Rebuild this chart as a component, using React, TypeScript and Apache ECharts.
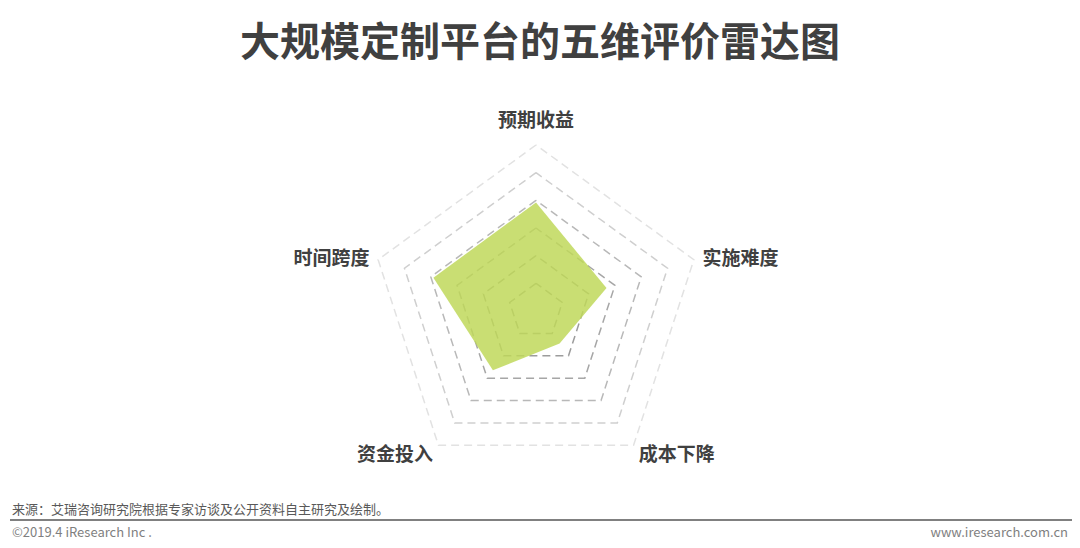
import React, { useEffect, useRef } from "react";
import * as echarts from "echarts";

const TITLE = "大规模定制平台的五维评价雷达图";
const INDICATORS = ["预期收益", "时间跨度", "资金投入", "成本下降", "实施难度"];
const MAX_VALUE = 6;
const SCORES = [3.92, 3.9, 2.65, 1.45, 2.68];
const SOURCE_TEXT = "来源：艾瑞咨询研究院根据专家访谈及公开资料自主研究及绘制。";
const COPYRIGHT = "©2019.4 iResearch Inc .";
const WEBSITE = "www.iresearch.com.cn";

const FONT = "'Noto Sans CJK SC', 'Noto Sans', sans-serif";

export default function App() {
  const ref = useRef<HTMLDivElement>(null);
  useEffect(() => {
    if (!ref.current) return;
    const chart = echarts.init(ref.current, null, { renderer: "svg" });
    const nameStyle = { color: "#404040", fontSize: 19, fontWeight: "bold", fontFamily: FONT };
    chart.setOption({
      animation: false,
      backgroundColor: "#ffffff",
      title: {
        text: TITLE,
        left: "center",
        top: 14,
        textStyle: { fontSize: 40, fontWeight: "bold", color: "#404040", fontFamily: FONT },
      },
      radar: {
        center: [536, 311],
        radius: 166,
        startAngle: 90,
        splitNumber: 6,
        shape: "polygon",
        nameGap: 9,
        indicator: INDICATORS.map((name) => ({ name, min: 0, max: MAX_VALUE })),
        axisName: {
          ...nameStyle,
          formatter: (name: string) =>
            name === INDICATORS[0] ? "{top|" + name + "}" : "{n|" + name + "}",
          rich: {
            top: { ...nameStyle, padding: [0, 0, 8, 0] },
            n: { ...nameStyle },
          },
        },
        axisLine: { show: false },
        axisTick: { show: false },
        axisLabel: { show: false },
        splitArea: { show: false },
        splitLine: {
          lineStyle: {
            color: ["#999999", "#999999", "#9c9c9c", "#a6a6a6", "#b8b8b8", "#cfcfcf", "#e2e2e2"],
            type: [8, 5],
            width: 1.5,
          },
        },
      },
      series: [
        {
          type: "radar",
          symbol: "none",
          lineStyle: { width: 0 },
          areaStyle: { color: "#bfd85a", opacity: 0.85 },
          data: [{ value: SCORES, name: "评分" }],
        },
      ],
      graphic: [
        {
          type: "text",
          left: 12,
          top: 502,
          style: { text: SOURCE_TEXT, fontSize: 13, fill: "#595959", fontFamily: FONT },
        },
        {
          type: "line",
          shape: { x1: 10, y1: 520, x2: 1072, y2: 520 },
          style: { stroke: "#808080", lineWidth: 2 },
        },
        {
          type: "text",
          left: 12,
          top: 525,
          style: { text: COPYRIGHT, fontSize: 13, fill: "#7f7f7f", fontFamily: FONT },
        },
        {
          type: "text",
          right: 12,
          top: 525,
          style: { text: WEBSITE, fontSize: 13, fill: "#7f7f7f", fontFamily: FONT },
        },
      ],
    });
    return () => chart.dispose();
  }, []);
  return (
    <div
      ref={ref}
      style={{ position: "fixed", left: 0, top: 0, width: 1080, height: 548, background: "#fff" }}
    />
  );
}
